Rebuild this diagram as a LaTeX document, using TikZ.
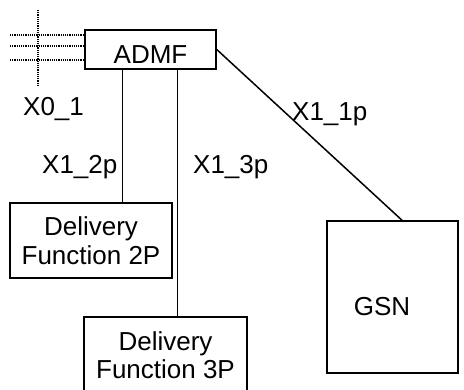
\documentclass[tikz,border=0pt]{standalone}
\usepackage{fontspec}
\setmainfont{Liberation Sans}
\usetikzlibrary{positioning,calc}

\begin{document}
\begin{tikzpicture}[
  x=1pt, y=-1pt,
  every node/.style = {font=\fontsize{26}{28.5}\selectfont, inner sep=0pt},
  box/.style = {draw, line width=1.5pt, align=center},
  link/.style = {draw, line width=1.5pt},
  tap/.style = {draw, line width=1.3pt, dash pattern=on 1.1pt off 1.1pt}
]
\useasboundingbox (0,0) rectangle (464,389);

\node[box, minimum width=131pt, minimum height=39pt, text height=27pt] (admf) at (150.5,49.5) {ADMF};
\node[box, minimum width=162pt, minimum height=75pt] (df2p) at (91,240.5) {Delivery\\Function 2P};
\node[box, minimum width=163pt, minimum height=76pt] (df3p) at (165.5,355) {Delivery\\Function 3P};
\node[box, minimum width=131pt, minimum height=152pt] (gsn) at (392.5,297) {};
\node (gsnname) at (382,307) {GSN};

% interfaces from the ADMF
\draw[link] (admf.south west) ++(38,0) coordinate (x2) -- (x2 |- df2p.north);
\draw[link] (admf.south west) ++(93,0) coordinate (x3) -- (x3 |- df3p.north);
\draw[link] (admf.east) -- ($(gsn.north)+(9.5,0)$);

% X0_1 handover, dotted
\foreach \y in {35,46,60}
  \draw[tap] (10,\y) -- (admf.west |- 0,\y);
\draw[tap] (38,10) -- (38,85);

\node[anchor=base west] (x01) at (23,115) {X0\_1};
\node[anchor=base west] (x12p) at (42,173) {X1\_2p};
\node[anchor=base west] (x13p) at (193,173) {X1\_3p};
\node[anchor=base west] (x11p) at (292,120) {X1\_1p};

\end{tikzpicture}
\end{document}
